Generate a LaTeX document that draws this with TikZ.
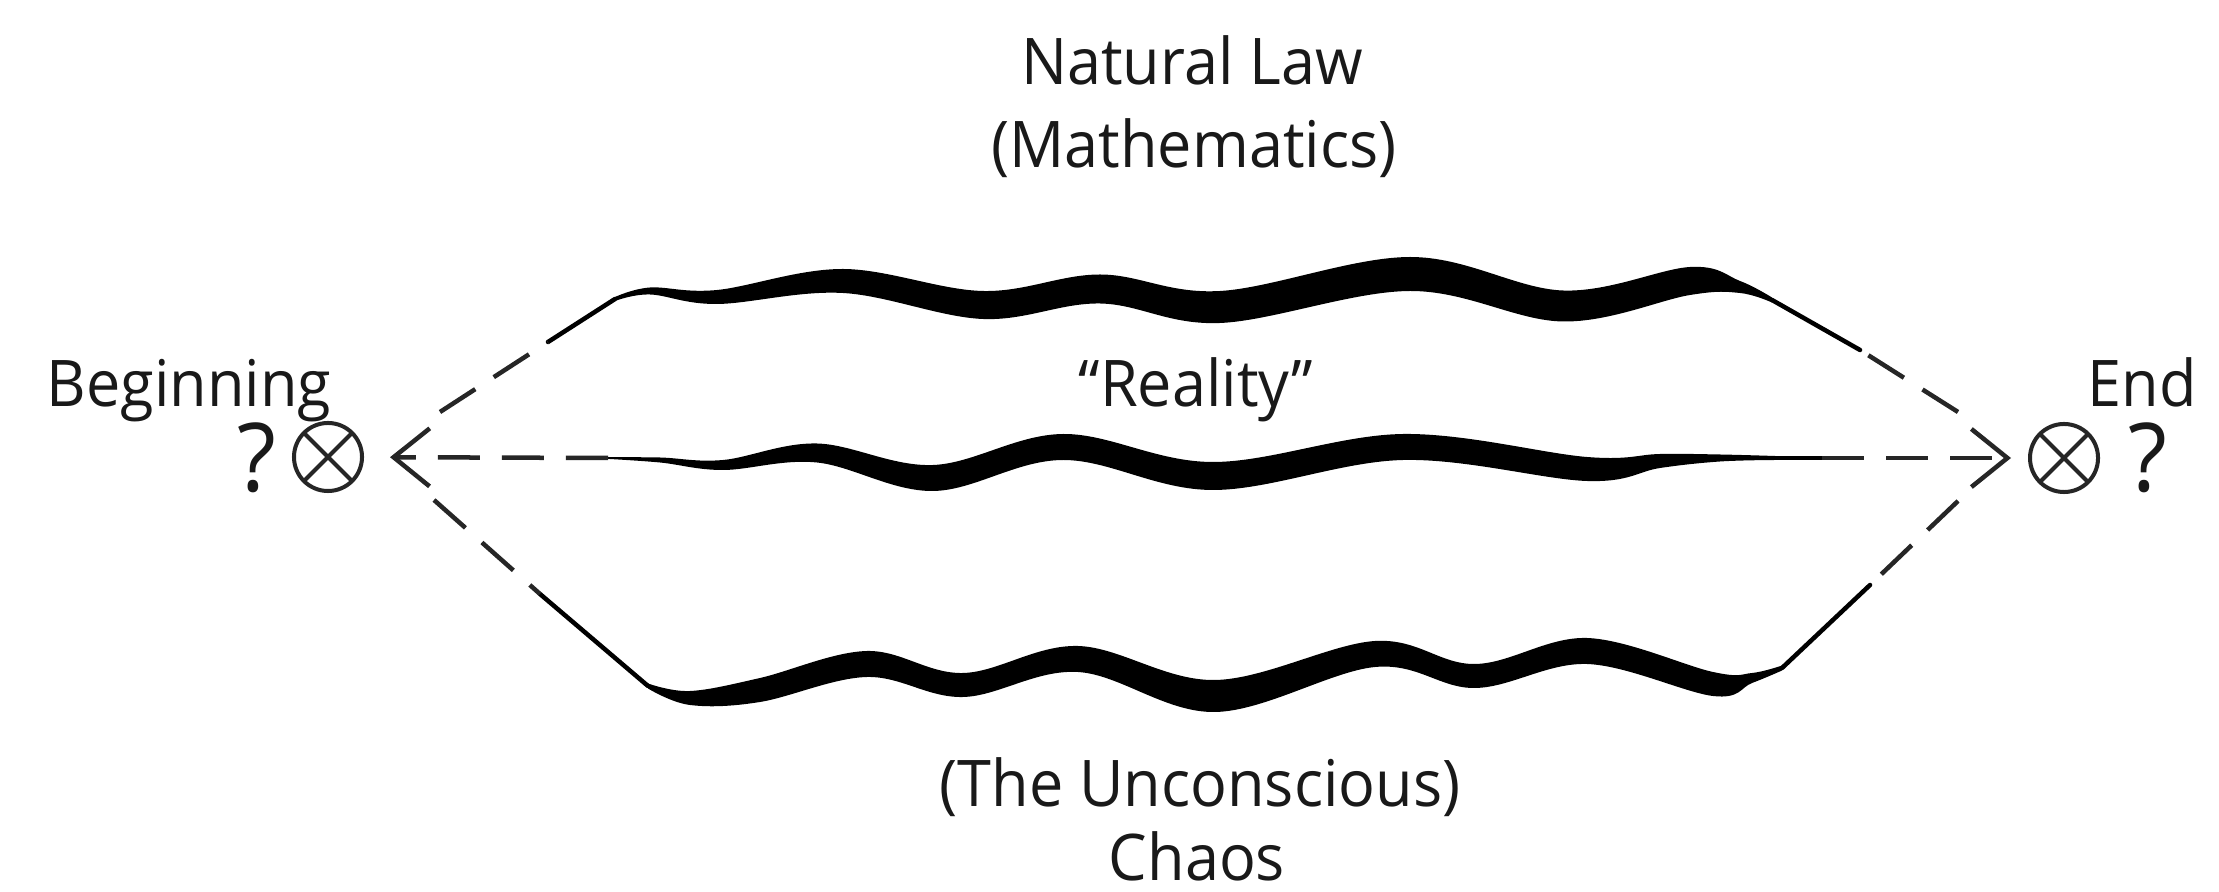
\documentclass[tikz,border=0pt]{standalone}
\usepackage{fontspec}
\setmainfont[FakeStretch=0.95]{Open Sans}
\usetikzlibrary{arrows.meta}
\begin{document}
\begin{tikzpicture}[x=0.01cm,y=-0.01cm,
  lbl/.style={inner sep=0pt, anchor=base, text=black!90, font=\fontsize{18.3pt}{22pt}\selectfont},
  qm/.style={inner sep=0pt, anchor=base, text=black!90, font=\fontsize{27pt}{32pt}\selectfont},
  otimes/.style={circle, draw=black!85, line width=0.04cm, minimum size=0.68cm, inner sep=0pt,
    path picture={\draw[black!85, line width=0.04cm]
      (path picture bounding box.north west) -- (path picture bounding box.south east)
      (path picture bounding box.north east) -- (path picture bounding box.south west);}},
  dashln/.style={draw=black!85, line width=0.045cm, dash pattern=on 0.42cm off 0.22cm},
  solidln/.style={draw=black, line width=0.045cm, line cap=round},
  wave/.style={fill=black},
  tipl/.style={-{Straight Barb[length=0.36cm,width=0.58cm]}}
]
\fill[white] (0,0) rectangle (2219,892);
\useasboundingbox (0,0) rectangle (2219,892);

% labels
\node[lbl] (nl) at (1192,85) {Natural Law};
\node[lbl] (math) at (1194,168) {(Mathematics)};
\node[lbl] (beg) at (189,407) {Beginning};
\node[lbl] (real) at (1196,407) {``Reality''};
\node[lbl] (end) at (2142,407) {End};
\node[lbl] (unc) at (1200,806) {(The Unconscious)};
\node[lbl] (chaos) at (1197,880) {Chaos};
\node[qm] (ql) at (257,492) {?};
\node[qm] (qr) at (2148,492) {?};
\node[otimes] (L) at (328,457) {};
\node[otimes] (R) at (2064,458) {};

% free ends
\coordinate (ml) at (608,458);
\coordinate (mr) at (1822,458);
\coordinate (ulA) at (440,412);
\coordinate (ulB) at (548,342);
\coordinate (llA) at (434,500);
\coordinate (llB) at (540,594);
\coordinate (urA) at (1958,412);
\coordinate (urB) at (1860,350);
\coordinate (lrA) at (1958,501);
\coordinate (lrB) at (1870,585);
\coordinate (tlc) at (615,299);
\coordinate (trc) at (1772,300);
\coordinate (blc) at (648,686);
\coordinate (brc) at (1782,668);

% top wave
\fill[wave] plot[smooth, tension=0.6] coordinates {(615,297) (650,287.5) (717,290) (843,269) (983,291) (1100,274.5) (1220,291) (1410,257) (1563,290.5) (1690,267) (1740,281) (1772,297.5)}
 -- plot[smooth, tension=0.6] coordinates {(1772,302.5) (1740,293) (1690,295) (1563,321.5) (1410,291) (1220,323) (1100,303.5) (983,319) (843,293) (717,304) (650,294.5) (615,301)} -- cycle;
% middle wave
\fill[wave] plot[smooth, tension=0.6] coordinates {(605,457.25) (660,457.5) (723,460) (817,443.5) (933,465) (1063,434) (1213,462) (1403,434) (1587,457) (1660,454) (1720,454.5) (1775,456)}
 -- plot[smooth, tension=0.6] coordinates {(1775,460) (1720,461.5) (1660,468) (1587,481) (1403,460) (1213,490) (1063,460) (933,491) (817,462.5) (723,470) (660,462.5) (605,458.75)} -- cycle;
% bottom wave
\fill[wave] plot[smooth, tension=0.6] coordinates {(648,683.5) (690,691) (760,678) (867,651) (963,673) (1078,646) (1215,680) (1375,641) (1475,664) (1587,638) (1713,672) (1752,673) (1782,665.5)}
 -- plot[smooth, tension=0.6] coordinates {(1782,670.5) (1752,683) (1713,696) (1587,664) (1475,688) (1375,667) (1215,712) (1078,672) (963,697) (867,677) (760,702) (690,705) (648,688.5)} -- cycle;

% solid diagonals into the waves
\draw[solidln] (ulB) -- (tlc);
\draw[solidln] (llB) -- (blc);
\draw[solidln] (urB) -- (trc);
\draw[solidln] (lrB) -- (brc);
\draw[solidln] (1770,458) -- (mr);

% dashed diagonals
\draw[dashln] (ulA) -- (ulB);
\draw[dashln] (llA) -- (llB);
\draw[dashln] (urA) -- (urB);
\draw[dashln] (lrA) -- (lrB);

% middle arrows
\draw[dashln, tipl, shorten >=0.26cm] (ml) -- (L);
\draw[dashln, tipl, shorten >=0.17cm] (mr) -- (R);
\end{tikzpicture}
\end{document}
